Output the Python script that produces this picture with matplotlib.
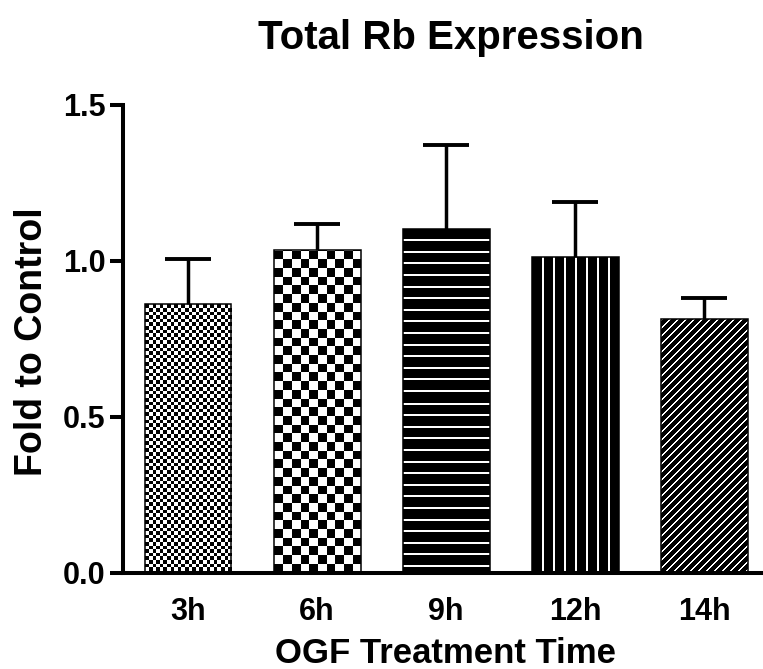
import numpy as np
import matplotlib
matplotlib.use("Agg")
import matplotlib.pyplot as plt

categories = ['3h', '6h', '9h', '12h', '14h']
means = [0.862, 1.035, 1.104, 1.014, 0.814]
sem_upper = [0.143, 0.082, 0.267, 0.176, 0.068]
patterns = ['fine_checker', 'coarse_checker', 'hlines', 'vlines', 'diag']
yticks = [0.0, 0.5, 1.0, 1.5]
ytick_labels = ['0.0', '0.5', '1.0', '1.5']

plt.rcParams['font.family'] = ['Liberation Sans', 'DejaVu Sans']
plt.rcParams['font.weight'] = 'bold'

W, H, DPI = 763, 669, 100
fig = plt.figure(figsize=(W / DPI, H / DPI), dpi=DPI)
ax = fig.add_axes([123 / W, (H - 573) / H, 1 - 123 / W, (573 - 105) / H])

x = np.arange(len(categories))
bw = 0.674
ax.set_xlim(-0.504, 4.457)
ax.set_ylim(0, 1.5)

bars = ax.bar(x, means, width=bw, facecolor='none', edgecolor='black',
              linewidth=1.1, zorder=2)


def make_pattern(kind, w, h):
    r, c = np.mgrid[0:h, 0:w]
    if kind == 'fine_checker':
        cell = 3.6
        arr = ((np.floor(r / cell) + np.floor(c / cell)) % 2).astype(float)
    elif kind == 'coarse_checker':
        cell = w / 10.0
        arr = ((np.floor((h - 1 - r) / cell) + np.floor(c / cell)) % 2).astype(float)
    elif kind == 'hlines':
        d = (r - 11.7) % 11.6
        arr = (((d < 1.0) | (d > 10.6)) & (r > 5)).astype(float)
    elif kind == 'vlines':
        sp = w / 8.0
        d = (c - sp) % sp
        arr = (((d < 1.0) | (d > sp - 1.0)) & (c > 4) & (c < w - 4)).astype(float)
    else:
        arr = (((c + r) % 8) < 2.0).astype(float)
    return arr


for bar, kind in zip(bars, patterns):
    bb = bar.get_window_extent()
    w = max(int(round(bb.width)), 1)
    h = max(int(round(bb.height)), 1)
    img = make_pattern(kind, w, h)
    x0 = bar.get_x()
    im = ax.imshow(img, cmap='gray', vmin=0, vmax=1,
                   extent=(x0, x0 + bar.get_width(), 0, bar.get_height()),
                   aspect='auto', interpolation='nearest', zorder=1.5)
    im.set_clip_path(bar)

ax.set_xlim(-0.504, 4.457)
ax.set_ylim(0, 1.5)

eb = ax.errorbar(x, means, yerr=[np.zeros(len(means)), sem_upper], fmt='none',
                 ecolor='black', elinewidth=2.5, capsize=16.5, capthick=2.8,
                 zorder=3)
caplines = eb.lines[1]
if len(caplines) == 2:
    caplines[0].set_visible(False)

for s in ['top', 'right']:
    ax.spines[s].set_visible(False)
for s in ['left', 'bottom']:
    ax.spines[s].set_linewidth(2.9)
    ax.spines[s].set_capstyle('projecting')
ax.spines['bottom'].set_zorder(4)

ax.set_yticks(yticks)
ax.set_yticklabels(ytick_labels)
ax.set_xticks(x)
ax.set_xticklabels(categories)
ax.tick_params(axis='y', length=9.4, width=2.9, pad=3, labelsize=22)
ax.tick_params(axis='x', length=0, pad=17, labelsize=22)
for lab in ax.get_xticklabels() + ax.get_yticklabels():
    lab.set_fontweight('bold')

fig.text(451 / W, (H - 49) / H, 'Total Rb Expression', ha='center',
         va='baseline', fontsize=29, fontweight='bold')
fig.text(445.5 / W, (H - 663) / H, 'OGF Treatment Time', ha='center',
         va='baseline', fontsize=25, fontweight='bold')
fig.text(42 / W, (H - 341.5) / H, 'Fold to Control', ha='center',
         va='baseline', rotation=90, rotation_mode='anchor', fontsize=27,
         fontweight='bold')

fig.savefig('out.png', dpi=DPI)
